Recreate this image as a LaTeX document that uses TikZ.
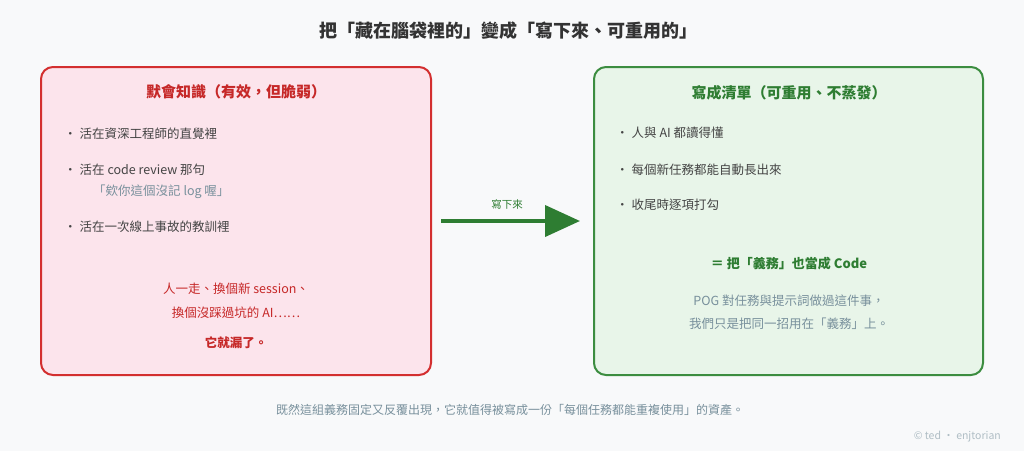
\documentclass[tikz,border=0pt]{standalone}
\usepackage{fontspec}
\setmainfont{Noto Sans CJK TC}
\usetikzlibrary{arrows.meta}
\definecolor{bg}{HTML}{F8F9FA}
\definecolor{redline}{HTML}{D32F2F}
\definecolor{redfill}{HTML}{FCE4EC}
\definecolor{redtext}{HTML}{C62828}
\definecolor{greenline}{HTML}{3C8D40}
\definecolor{greenfill}{HTML}{E8F5E9}
\definecolor{greentext}{HTML}{2E7D32}
\definecolor{bodytext}{HTML}{444444}
\definecolor{graytext}{HTML}{78909C}
\definecolor{titletext}{HTML}{333333}
\definecolor{faint}{HTML}{B0BEC5}
\newcommand{\bdot}{·\hspace{3pt}}
\tikzset{
  panel/.style={rounded corners=12pt, line width=2pt},
  bullet/.style={anchor=west, font=\fontsize{12.5}{15}\selectfont, text=bodytext, inner sep=0pt},
  head/.style={font=\fontsize{15}{18}\selectfont\bfseries, inner sep=0pt},
  note/.style={font=\fontsize{12.5}{15}\selectfont, inner sep=0pt}
}
\begin{document}
\begin{tikzpicture}[x=1pt,y=-1pt]
\fill[bg] (0,0) rectangle (1024,451);
\useasboundingbox (0,0) rectangle (1024,451);
\node[font=\fontsize{18}{22}\selectfont\bfseries, text=titletext, inner sep=0pt] (title) at (508,31) {把「藏在腦袋裡的」變成「寫下來、可重用的」};
% left panel
\draw[panel, draw=redline, fill=redfill] (41,67) rectangle (431,375);
\node[head, text=redtext] (lh) at (236,92) {默會知識（有效，但脆弱）};
\node[bullet] (l1) at (64,134) {\bdot 活在資深工程師的直覺裡};
\node[bullet] (l2) at (64,170) {\bdot 活在 code review 那句};
\node[bullet, text=graytext] (l2b) at (93,192) {「欸你這個沒記 log 喔」};
\node[bullet] (l3) at (64,227) {\bdot 活在一次線上事故的教訓裡};
\node[note, text=redtext] (lr1) at (236,289) {人一走、換個新 session、};
\node[note, text=redtext] (lr2) at (236,313) {換個沒踩過坑的 AI……};
\node[note, text=redtext, font=\fontsize{12.5}{15}\selectfont\bfseries] (lr3) at (236,343) {它就漏了。};
% right panel
\draw[panel, draw=greenline, fill=greenfill] (594,67) rectangle (983,375);
\node[head, text=greentext] (rh) at (789,93) {寫成清單（可重用、不蒸發）};
\node[bullet] (r1) at (616,133) {\bdot 人與 AI 都讀得懂};
\node[bullet] (r2) at (616,170) {\bdot 每個新任務都能自動長出來};
\node[bullet] (r3) at (616,205) {\bdot 收尾時逐項打勾};
\node[note, text=greentext, font=\fontsize{13}{16}\selectfont\bfseries] (req) at (789,264) {＝ 把「義務」也當成 Code};
\node[note, text=graytext] (rn1) at (789,301) {POG 對任務與提示詞做過這件事，};
\node[note, text=graytext] (rn2) at (789,324) {我們只是把同一招用在「義務」上。};
% arrow
\coordinate (as) at (441,221);
\coordinate (ae) at (580,221);
\draw[greentext, line width=4pt, -{Triangle[length=35pt,width=31pt]}] (as) -- (ae);
\node[font=\fontsize{10.5}{13}\selectfont, text=greentext, inner sep=0pt] (al) at (507,204) {寫下來};
% footer
\node[font=\fontsize{12}{15}\selectfont, text=graytext, inner sep=0pt] (foot) at (510,410) {既然這組義務固定又反覆出現，它就值得被寫成一份「每個任務都能重複使用」的資產。};
\node[font=\fontsize{10.5}{12}\selectfont, text=faint, anchor=east, inner sep=0pt] (copy) at (1001,437) {© ted · enjtorian};
\end{tikzpicture}
\end{document}
